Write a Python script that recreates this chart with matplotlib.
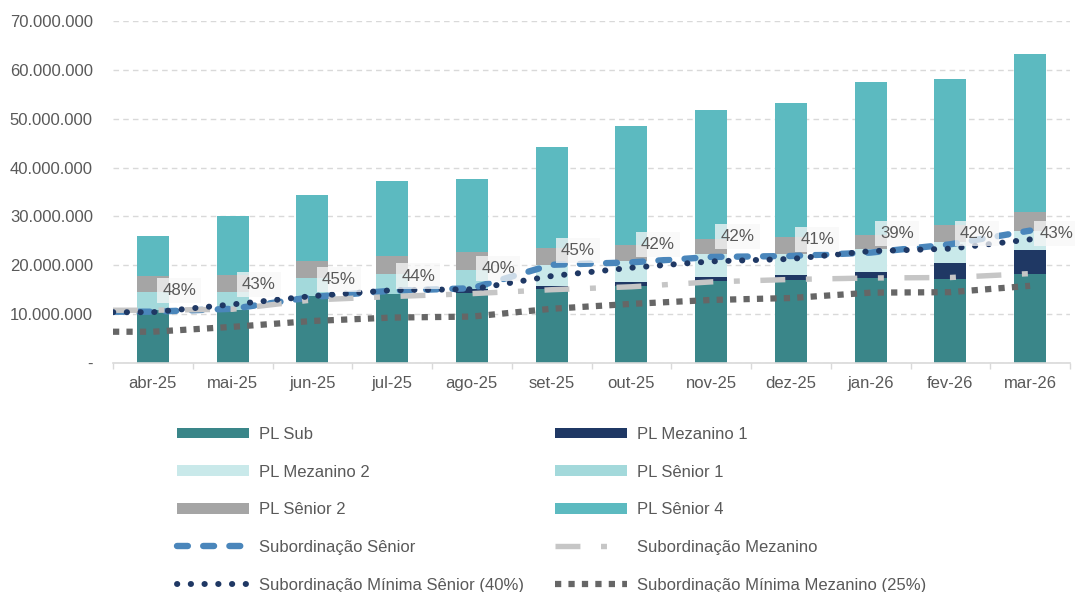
import numpy as np
import matplotlib
matplotlib.use("Agg")
import matplotlib.pyplot as plt
from matplotlib.lines import Line2D
from matplotlib.patches import Patch
from matplotlib.ticker import FuncFormatter, MultipleLocator, FixedLocator

plt.rcParams['font.family'] = ['Liberation Sans', 'DejaVu Sans']

# ---------------- data (values in millions) ----------------
months = ['abr-25', 'mai-25', 'jun-25', 'jul-25', 'ago-25', 'set-25',
          'out-25', 'nov-25', 'dez-25', 'jan-26', 'fev-26', 'mar-26']

pl_sub       = [10.9, 10.9, 13.8, 14.2, 14.3, 15.05, 15.7, 16.8, 17.05, 17.45, 17.2, 18.25]
pl_mez1      = [0.0, 0.0, 0.0, 0.0, 0.9, 0.8, 0.8, 0.9, 1.0, 1.1, 3.3, 4.95]
pl_mez2      = [0.0, 0.0, 0.0, 0.0, 0.0, 4.3, 4.3, 4.7, 4.35, 4.8, 4.2, 3.8]
pl_sen1      = [3.6, 3.7, 3.6, 4.1, 3.9, 0.0, 0.0, 0.0, 0.0, 0.0, 0.0, 0.0]
pl_sen2      = [3.35, 3.45, 3.5, 3.6, 3.7, 3.3, 3.4, 2.9, 3.35, 2.8, 3.45, 4.0]
pl_sen4      = [8.15, 11.95, 13.4, 15.3, 14.9, 20.85, 24.4, 26.4, 27.45, 31.45, 30.05, 32.3]

sub_senior   = [10.5, 11.1, 13.5, 14.8, 15.3, 20.1, 20.6, 21.7, 21.9, 22.6, 24.3, 27.1]
sub_mezanino = [10.8, 11.0, 12.9, 13.6, 14.2, 15.0, 15.6, 16.6, 17.1, 17.4, 17.5, 18.3]
min_senior   = [10.4, 12.0, 13.7, 14.9, 15.1, 17.8, 19.5, 20.8, 21.3, 22.9, 23.4, 25.3]
min_mezanino = [6.4, 7.4, 8.6, 9.3, 9.5, 11.1, 12.1, 12.9, 13.3, 14.4, 14.5, 15.8]

pct_labels   = ['48%', '43%', '45%', '44%', '40%', '45%', '42%', '42%', '41%', '39%', '42%', '43%']
pct_label_level = [14.8, 16.0, 17.1, 17.8, 19.4, 23.1, 24.3, 25.9, 25.2, 26.55, 26.55, 26.55]

SCALE = 1e6

# ---------------- styles ----------------
c_sub, c_mez1, c_mez2 = '#3a8689', '#1f3864', '#c9e9ea'
c_sen1, c_sen2, c_sen4 = '#a3d9db', '#a5a5a5', '#5cbac0'
c_blue, c_lgray, c_navy, c_dgray = '#4a86bb', '#c6c6c6', '#1f3864', '#666666'
txt = '#595959'
grid_c = '#d9d9d9'

# line styles: (color, lw, dash pattern, capstyle)
st_sen    = (c_blue, 4.6, (0, (1.7, 2.4)), 'round')
st_mez    = (c_lgray, 3.9, (0, (4.6, 3.8, 1.1, 3.8)), 'butt')
st_minsen = (c_navy, 4.3, (0, (0.05, 2.25)), 'round')
st_minmez = (c_dgray, 4.5, (0, (1.0, 1.15)), 'butt')

fig = plt.figure(figsize=(10.75, 5.92), dpi=100)
ax = fig.add_axes([113/1075, 1 - 363/592, (1070 - 113)/1075, (363 - 21)/592])

x = np.arange(len(months))
bw = 0.40
bottom = np.zeros(len(months))
series = [(pl_sub, c_sub, 'PL Sub'), (pl_mez1, c_mez1, 'PL Mezanino 1'),
          (pl_mez2, c_mez2, 'PL Mezanino 2'), (pl_sen1, c_sen1, 'PL Sênior 1'),
          (pl_sen2, c_sen2, 'PL Sênior 2'), (pl_sen4, c_sen4, 'PL Sênior 4')]
patches = {}
for vals, col, lab in series:
    v = np.array(vals) * SCALE
    ax.bar(x, v, bw, bottom=bottom, color=col, zorder=2, linewidth=0)
    bottom += v
    patches[lab] = Patch(facecolor=col, edgecolor='none', label=lab)

# lines start at the left edge of the plot with the first value
xl = np.r_[-0.5, x]
def ext(v):
    v = np.array(v) * SCALE
    return np.r_[v[0], v]

def draw(vals, st, z):
    col, lw, ls, cap = st
    ln, = ax.plot(xl, ext(vals), color=col, lw=lw, linestyle=ls, zorder=z)
    ln.set_dash_capstyle(cap)
    return ln

draw(min_mezanino, st_minmez, 3)
draw(sub_senior, st_sen, 4)
draw(sub_mezanino, st_mez, 5)
draw(min_senior, st_minsen, 6)

# percentage labels
for i, (t, lv) in enumerate(zip(pct_labels, pct_label_level)):
    ax.text(i + 0.33, lv * SCALE, t, ha='center', va='center', fontsize=12.2,
            color=txt, zorder=8, clip_on=False,
            bbox=dict(boxstyle='square,pad=0.3', facecolor='#f7f7f7',
                      edgecolor='none', alpha=0.75))

# axes styling
ax.set_xlim(-0.5, 11.5)
ax.set_ylim(0, 70 * SCALE)
ax.yaxis.set_major_locator(MultipleLocator(10 * SCALE))
ax.yaxis.set_major_formatter(FuncFormatter(
    lambda v, p: '-' if v == 0 else f'{v:,.0f}'.replace(',', '.')))
ax.set_xticks(x)
ax.set_xticklabels(months)
ax.xaxis.set_minor_locator(FixedLocator(np.arange(-0.5, 12, 1.0)))
ax.tick_params(axis='x', which='major', length=0, pad=9.5, labelsize=12, labelcolor=txt)
ax.tick_params(axis='x', which='minor', length=4, width=1, color=grid_c, direction='out')
ax.tick_params(axis='y', length=0, pad=14.5, labelsize=12, labelcolor=txt)
ax.grid(axis='y', color=grid_c, linestyle=(0, (4, 3)), linewidth=1.0, zorder=0)
ax.set_axisbelow(True)
for s in ['top', 'right', 'left']:
    ax.spines[s].set_visible(False)
ax.spines['bottom'].set_color(grid_c)
ax.spines['bottom'].set_linewidth(1.2)
ax.spines['bottom'].set_zorder(2.5)

# legend (column-major order for 2 columns)
def proxy(st, lab):
    col, lw, ls, cap = st
    h = Line2D([], [], color=col, lw=lw, linestyle=ls, label=lab)
    h.set_dash_capstyle(cap)
    return h

h_sen = proxy(st_sen, 'Subordinação Sênior')
h_mez = proxy(st_mez, 'Subordinação Mezanino')
h_minsen = proxy(st_minsen, 'Subordinação Mínima Sênior (40%)')
h_minmez = proxy(st_minmez, 'Subordinação Mínima Mezanino (25%)')

handles = [patches['PL Sub'], patches['PL Mezanino 2'], patches['PL Sênior 2'], h_sen, h_minsen,
           patches['PL Mezanino 1'], patches['PL Sênior 1'], patches['PL Sênior 4'], h_mez, h_minmez]
fig.legend(handles=handles, labels=[h.get_label() for h in handles], ncol=2,
           loc='center', bbox_to_anchor=(0.513, 0.139), frameon=False,
           fontsize=12, labelcolor=txt, handlelength=4.3, handleheight=0.6,
           handletextpad=0.6, columnspacing=1.87, labelspacing=1.36)

fig.savefig('out.png', dpi=100)
